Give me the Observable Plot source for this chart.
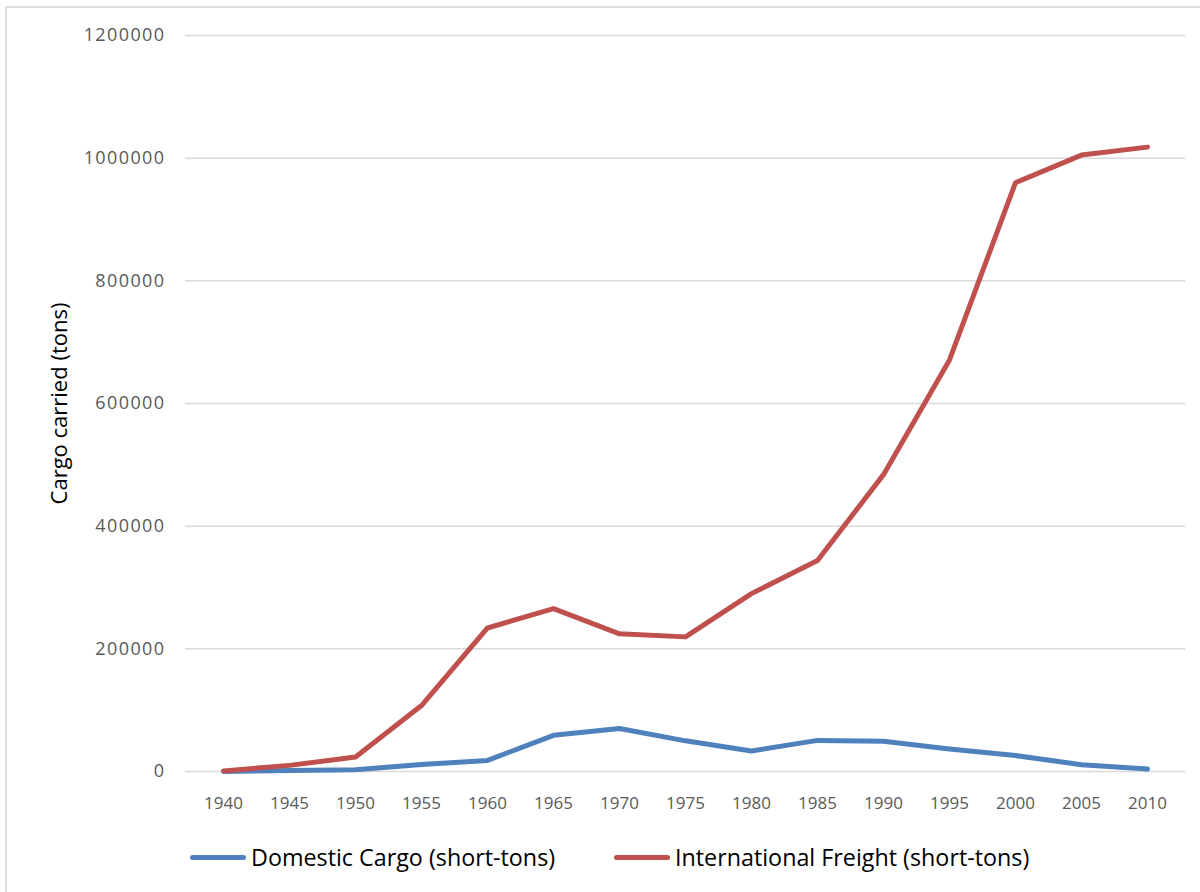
<!DOCTYPE html>
<html>
<head>
<meta charset="utf-8">
<script src="https://cdn.jsdelivr.net/npm/d3@7"></script>
<script src="https://cdn.jsdelivr.net/npm/@observablehq/plot@0.6"></script>
<style>
  html, body { margin: 0; padding: 0; background: #fff; }
  body { width: 1200px; height: 892px; position: relative; overflow: hidden; font-family: "Open Sans", "Liberation Sans", sans-serif; }
  #frame { position: absolute; left: 5px; top: 6px; width: 1300px; height: 1000px; border-left: 2px solid #e0e0e0; border-top: 2px solid #e0e0e0; box-sizing: border-box; }
  #chart { position: absolute; left: 0; top: 0; }
  #chart svg g[aria-label="y-axis tick label"] text { font-size: 18px !important; letter-spacing: 1.4px; fill: #595959; }
  #chart svg g[aria-label="x-axis tick label"] text { font-size: 17px !important; fill: #595959; }
  #chart svg g[aria-label="y-axis label"] text { font-size: 22px !important; fill: #000 !important; }
  #legend { position: absolute; top: 840px; left: 0; width: 1200px; height: 34px; font-size: 23.3px; color: #000; }
  .item { position: absolute; display: flex; align-items: center; height: 34px; }
  .swatch { width: 56px; height: 5px; border-radius: 3px; margin-right: 5px; }
</style>
</head>
<body>
<div id="frame"></div>
<div id="chart"></div>
<div id="legend"></div>
<script>
const years = [1940, 1945, 1950, 1955, 1960, 1965, 1970, 1975, 1980, 1985, 1990, 1995, 2000, 2005, 2010];
const domesticCargo = [0, 1500, 3000, 11500, 18000, 59000, 70000, 50000, 33500, 50700, 49300, 36800, 26000, 11000, 4000];
const internationalFreight = [1000, 10000, 23500, 107500, 234000, 265500, 224500, 219500, 290000, 344000, 484000, 671000, 960000, 1005000, 1018000];
const seriesNames = ["Domestic Cargo (short-tons)", "International Freight (short-tons)"];
const seriesColors = ["#4f81bd", "#c0504d"];
const yTicks = [0, 200000, 400000, 600000, 800000, 1000000, 1200000];

const rows = [];
years.forEach((yr, i) => {
  rows.push({year: yr, value: domesticCargo[i], series: seriesNames[0]});
  rows.push({year: yr, value: internationalFreight[i], series: seriesNames[1]});
});

const chart = Plot.plot({
  width: 1200,
  height: 820,
  marginLeft: 185,
  marginRight: 15,
  marginTop: 35,
  marginBottom: 49,
  style: { fontFamily: "'Open Sans', 'Liberation Sans', sans-serif", fontSize: "16px", color: "#595959", background: "transparent" },
  x: { type: "point", domain: years, padding: 0.5 },
  y: { domain: [0, 1200000] },
  color: { domain: seriesNames, range: seriesColors },
  marks: [
    Plot.gridY(yTicks, { stroke: "#d9d9d9", strokeOpacity: 1, strokeWidth: 1.5 }),
    Plot.axisY(yTicks, { tickSize: 0, tickPadding: 20, tickFormat: d => String(d), label: "Cargo carried (tons)", labelAnchor: "center", labelOffset: 134, labelArrow: "none" }),
    Plot.axisX(years, { tickSize: 0, tickPadding: 25, tickFormat: d => String(d), label: null }),
    Plot.line(rows, { x: "year", y: "value", z: "series", stroke: "series", strokeWidth: 5, strokeLinecap: "round", strokeLinejoin: "round" })
  ]
});
document.getElementById("chart").appendChild(chart);

const legend = document.getElementById("legend");
const positions = [190, 614];
seriesNames.forEach((name, i) => {
  const item = document.createElement("div");
  item.className = "item";
  item.style.left = positions[i] + "px";
  const sw = document.createElement("div");
  sw.className = "swatch";
  sw.style.background = seriesColors[i];
  const tx = document.createElement("span");
  tx.textContent = name;
  item.appendChild(sw);
  item.appendChild(tx);
  legend.appendChild(item);
});
</script>
</body>
</html>
